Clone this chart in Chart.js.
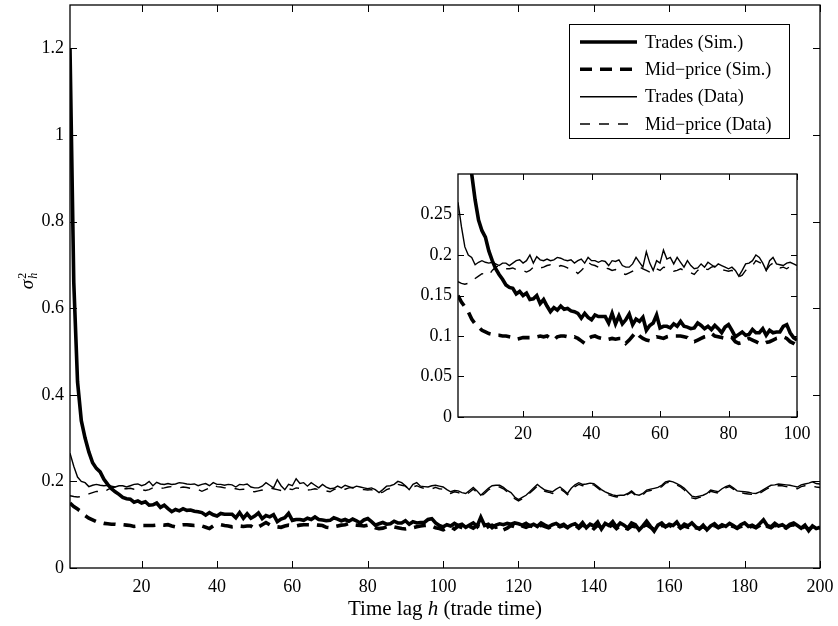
<!DOCTYPE html>
<html><head><meta charset="utf-8">
<script src="https://cdn.jsdelivr.net/npm/chart.js@4.4.1/dist/chart.umd.min.js"></script>
<style>
html,body{margin:0;padding:0;background:#fff;}
#wrap{position:relative;width:838px;height:626px;overflow:hidden;background:#fff;}
#main{position:absolute;left:0;top:0;}
#inset{position:absolute;left:400px;top:165px;}
</style></head><body>
<div id="wrap">
<canvas id="main" width="838" height="626"></canvas>
<canvas id="inset" width="420" height="290"></canvas>
</div>
<script>
// ---------- data ----------
const lag = Array.from({length:200},(_,i)=>i+1);

const tradesSim = [
1.20,0.66,0.43,0.34,0.30,0.268,0.243,0.230,0.222,0.205,
0.193,0.183,0.176,0.170,0.163,0.160,0.159,0.152,0.155,0.150,
0.153,0.145,0.146,0.150,0.140,0.145,0.137,0.130,0.135,0.132,
0.137,0.133,0.134,0.131,0.130,0.128,0.122,0.128,0.123,0.120,
0.126,0.124,0.124,0.124,0.116,0.128,0.115,0.125,0.115,0.120,
0.127,0.114,0.121,0.118,0.123,0.107,0.113,0.116,0.126,0.110,
0.112,0.112,0.110,0.115,0.112,0.118,0.112,0.111,0.109,0.110,
0.116,0.113,0.109,0.112,0.108,0.113,0.109,0.104,0.111,0.114,
0.107,0.099,0.102,0.105,0.101,0.102,0.108,0.104,0.104,0.109,
0.101,0.107,0.104,0.105,0.105,0.112,0.114,0.104,0.098,0.095,
0.100,0.097,0.103,0.098,0.101,0.094,0.099,0.104,0.096,0.117,
0.098,0.101,0.093,0.099,0.102,0.100,0.103,0.101,0.104,0.102,
0.099,0.103,0.097,0.101,0.096,0.104,0.099,0.095,0.100,0.103,
0.097,0.101,0.094,0.099,0.102,0.095,0.105,0.093,0.101,0.097,
0.106,0.090,0.103,0.098,0.107,0.094,0.104,0.099,0.092,0.104,
0.100,0.088,0.097,0.108,0.096,0.085,0.099,0.104,0.095,0.101,
0.098,0.106,0.093,0.101,0.097,0.104,0.095,0.090,0.099,0.088,
0.097,0.102,0.094,0.100,0.096,0.103,0.098,0.092,0.100,0.104,
0.096,0.099,0.094,0.102,0.111,0.098,0.095,0.103,0.097,0.100,
0.094,0.101,0.104,0.098,0.092,0.099,0.086,0.097,0.091,0.094];

const midSim = [
0.150,0.142,0.136,0.130,0.121,0.115,0.111,0.107,0.105,0.103,
0.102,0.101,0.101,0.100,0.100,0.099,0.098,0.096,0.097,0.098,
0.098,0.098,0.098,0.099,0.100,0.099,0.100,0.097,0.095,0.099,
0.100,0.100,0.099,0.098,0.099,0.097,0.094,0.091,0.097,0.099,
0.100,0.098,0.097,0.095,0.096,0.097,0.096,0.097,0.097,0.091,
0.095,0.100,0.105,0.100,0.097,0.095,0.094,0.097,0.099,0.098,
0.097,0.099,0.100,0.100,0.100,0.100,0.099,0.098,0.094,0.093,
0.095,0.097,0.099,0.100,0.103,0.100,0.099,0.098,0.097,0.099,
0.098,0.093,0.091,0.092,0.095,0.097,0.095,0.093,0.091,0.090,
0.092,0.093,0.095,0.097,0.098,0.099,0.097,0.093,0.091,0.088,
0.092,0.095,0.090,0.097,0.093,0.089,0.096,0.092,0.098,0.095,
0.090,0.096,0.099,0.094,0.097,0.088,0.092,0.098,0.095,0.100,
0.097,0.094,0.098,0.095,0.092,0.099,0.096,0.093,0.097,0.100,
0.095,0.098,0.093,0.096,0.099,0.092,0.100,0.094,0.097,0.091,
0.099,0.093,0.097,0.095,0.100,0.091,0.098,0.094,0.090,0.097,
0.095,0.091,0.096,0.100,0.094,0.089,0.093,0.098,0.096,0.099,
0.094,0.100,0.092,0.097,0.094,0.099,0.093,0.091,0.096,0.090,
0.095,0.098,0.093,0.097,0.094,0.099,0.096,0.092,0.096,0.099,
0.094,0.097,0.093,0.098,0.104,0.096,0.093,0.099,0.095,0.097,
0.092,0.098,0.100,0.095,0.091,0.096,0.089,0.095,0.090,0.092];

const tradesData = [
0.265,0.235,0.210,0.200,0.197,0.188,0.191,0.193,0.191,0.190,
0.191,0.189,0.187,0.190,0.190,0.187,0.190,0.193,0.194,0.190,
0.193,0.200,0.190,0.198,0.194,0.193,0.195,0.193,0.194,0.197,
0.196,0.194,0.193,0.194,0.190,0.193,0.195,0.190,0.197,0.193,
0.193,0.191,0.193,0.192,0.187,0.193,0.192,0.194,0.187,0.185,
0.185,0.189,0.197,0.191,0.185,0.204,0.190,0.181,0.193,0.190,
0.206,0.195,0.197,0.189,0.197,0.191,0.185,0.193,0.187,0.183,
0.184,0.189,0.185,0.191,0.188,0.185,0.189,0.187,0.185,0.183,
0.185,0.181,0.174,0.181,0.189,0.190,0.193,0.200,0.197,0.190,
0.181,0.193,0.197,0.189,0.188,0.187,0.190,0.191,0.189,0.187,
0.181,0.176,0.179,0.178,0.174,0.172,0.179,0.186,0.178,0.168,
0.176,0.184,0.190,0.191,0.191,0.186,0.179,0.174,0.164,0.158,
0.163,0.168,0.176,0.185,0.193,0.186,0.180,0.178,0.176,0.182,
0.187,0.180,0.172,0.184,0.192,0.197,0.193,0.194,0.196,0.195,
0.188,0.181,0.176,0.172,0.169,0.167,0.168,0.168,0.172,0.178,
0.170,0.168,0.172,0.180,0.182,0.184,0.186,0.191,0.199,0.201,
0.199,0.195,0.190,0.184,0.175,0.166,0.164,0.166,0.168,0.172,
0.180,0.178,0.176,0.183,0.188,0.191,0.185,0.178,0.177,0.176,
0.175,0.173,0.172,0.176,0.181,0.186,0.191,0.192,0.194,0.193,
0.192,0.191,0.189,0.187,0.192,0.194,0.196,0.199,0.195,0.194];

const midData = [
0.167,0.165,0.164,0.165,0.167,0.171,0.174,0.177,0.176,0.175,
0.181,0.185,0.187,0.185,0.183,0.183,0.184,0.182,0.182,0.181,
0.179,0.181,0.185,0.183,0.184,0.185,0.187,0.188,0.186,0.185,
0.187,0.186,0.184,0.182,0.181,0.177,0.181,0.185,0.191,0.188,
0.187,0.185,0.186,0.184,0.183,0.181,0.182,0.180,0.177,0.176,
0.178,0.180,0.184,0.185,0.183,0.181,0.179,0.178,0.183,0.181,
0.185,0.184,0.182,0.180,0.181,0.183,0.181,0.179,0.178,0.176,
0.181,0.185,0.183,0.182,0.185,0.186,0.183,0.182,0.181,0.180,
0.181,0.176,0.173,0.175,0.181,0.184,0.187,0.193,0.191,0.189,
0.181,0.187,0.190,0.186,0.184,0.185,0.183,0.186,0.183,0.182,
0.178,0.172,0.176,0.174,0.171,0.169,0.175,0.182,0.175,0.166,
0.172,0.180,0.186,0.188,0.187,0.183,0.176,0.170,0.160,0.155,
0.160,0.165,0.173,0.181,0.189,0.183,0.177,0.175,0.172,0.178,
0.183,0.177,0.169,0.180,0.188,0.193,0.190,0.191,0.193,0.192,
0.185,0.178,0.173,0.169,0.166,0.164,0.165,0.166,0.170,0.175,
0.168,0.165,0.169,0.177,0.179,0.181,0.183,0.188,0.196,0.198,
0.196,0.192,0.187,0.180,0.171,0.162,0.160,0.163,0.165,0.169,
0.177,0.175,0.173,0.180,0.185,0.188,0.182,0.175,0.174,0.172,
0.171,0.170,0.168,0.172,0.178,0.183,0.188,0.189,0.190,0.190,
0.188,0.187,0.185,0.183,0.188,0.190,0.191,0.189,0.187,0.186];

const seriesLabels = ['Trades (Sim.)','Mid\u2212price (Sim.)','Trades (Data)','Mid\u2212price (Data)'];
const mainXTicks = [20,40,60,80,100,120,140,160,180,200];
const mainYTicks = [0,0.2,0.4,0.6,0.8,1,1.2];
const insetXTicks = [20,40,60,80,100];
const insetYTicks = [0,0.05,0.1,0.15,0.2,0.25];

// ---------- helpers ----------
const SERIF = '"Liberation Serif","Times New Roman",serif';
const styles = [
  {borderWidth:3.6, borderDash:[]},
  {borderWidth:3.6, borderDash:[12,8]},
  {borderWidth:1.4, borderDash:[]},
  {borderWidth:1.4, borderDash:[10,9]}
];
const allSeries = [tradesSim, midSim, tradesData, midData];

function buildDatasets(maxLag){
  return allSeries.map((arr,k)=>({
    label: seriesLabels[k],
    data: arr.map((v,i)=>({x:lag[i], y:v})).filter(p=>p.x<=maxLag),
    borderColor:'#000',
    backgroundColor:'#000',
    borderWidth: styles[k].borderWidth,
    borderDash: styles[k].borderDash,
    pointRadius:0,
    tension:0,
    fill:false
  }));
}

const frameTicks = {
  id:'frameTicks',
  beforeDraw(chart, args, opts){
    if(!opts.whiteArea) return;
    const {ctx, chartArea:a} = chart;
    ctx.save(); ctx.fillStyle='#fff';
    ctx.fillRect(a.left, a.top, a.right-a.left, a.bottom-a.top);
    ctx.restore();
  },
  afterDatasetsDraw(chart, args, opts){
    const {ctx, chartArea:a, scales} = chart;
    const x = scales.x, y = scales.y;
    const L = opts.len || 7;
    ctx.save();
    ctx.strokeStyle='#000'; ctx.lineWidth=1; ctx.setLineDash([]);
    ctx.beginPath();
    x.ticks.forEach(t=>{
      const px = Math.round(x.getPixelForValue(t.value))+0.5;
      ctx.moveTo(px,a.bottom); ctx.lineTo(px,a.bottom-L);
      ctx.moveTo(px,a.top); ctx.lineTo(px,a.top+L);
    });
    y.ticks.forEach(t=>{
      const py = Math.round(y.getPixelForValue(t.value))+0.5;
      ctx.moveTo(a.left,py); ctx.lineTo(a.left+L,py);
      ctx.moveTo(a.right,py); ctx.lineTo(a.right-L,py);
    });
    ctx.stroke();
    ctx.lineWidth=1.3;
    ctx.strokeRect(a.left, a.top, a.right-a.left, a.bottom-a.top);
    ctx.restore();
  }
};

const mainDecor = {
  id:'mainDecor',
  afterDraw(chart){
    const ctx = chart.ctx;
    const a = chart.chartArea;
    ctx.save();
    ctx.fillStyle='#000';
    // x axis title
    const segs = [
      {t:'Time lag ', f:'21px '+SERIF},
      {t:'h', f:'italic 21px '+SERIF},
      {t:' (trade time)', f:'21px '+SERIF}
    ];
    let tot=0; segs.forEach(s=>{ctx.font=s.f; s.w=ctx.measureText(s.t).width; tot+=s.w;});
    let xx = (a.left+a.right)/2 - tot/2;
    ctx.textBaseline='middle';
    segs.forEach(s=>{ctx.font=s.f; ctx.fillText(s.t, xx, 609); xx+=s.w;});
    // y axis title: sigma^2_h, rotated
    ctx.translate(26, 281);
    ctx.rotate(-Math.PI/2);
    ctx.textBaseline='alphabetic';
    ctx.font='italic 19px '+SERIF;
    const wS = ctx.measureText('\u03C3').width;
    ctx.font='12px '+SERIF;
    const w2 = ctx.measureText('2').width;
    const totY = wS + w2 + 1;
    const x0 = -totY/2;
    ctx.font='italic 19px '+SERIF;
    ctx.fillText('\u03C3', x0, 7);
    ctx.font='12px '+SERIF;
    ctx.fillText('2', x0+wS+1, -0.5);
    ctx.font='italic 12px '+SERIF;
    ctx.fillText('h', x0+wS+1, 10.5);
    ctx.setTransform(1,0,0,1,0,0);
    // legend
    const bx=569.5, by=24.5, bw=220, bh=114;
    ctx.fillStyle='#fff';
    ctx.fillRect(bx,by,bw,bh);
    ctx.strokeStyle='#000'; ctx.lineWidth=1; ctx.setLineDash([]);
    ctx.strokeRect(bx,by,bw,bh);
    const rows=[42,69.3,96.7,124];
    chart.data.datasets.forEach((ds,k)=>{
      const yy = rows[k];
      ctx.strokeStyle='#000';
      ctx.lineWidth = ds.borderWidth;
      ctx.setLineDash(ds.borderDash||[]);
      ctx.beginPath(); ctx.moveTo(580,yy); ctx.lineTo(637,yy); ctx.stroke();
      ctx.setLineDash([]);
      ctx.fillStyle='#000';
      ctx.font='18px '+SERIF;
      ctx.textBaseline='middle';
      ctx.fillText(ds.label, 645, yy+1);
    });
    ctx.restore();
  }
};

function makeOptions(cfg){
  return {
    responsive:false,
    animation:false,
    devicePixelRatio:1,
    events:[],
    layout:{padding:cfg.padding},
    plugins:{legend:{display:false}, tooltip:{enabled:false}, frameTicks:{len:cfg.tickLen, whiteArea:cfg.whiteArea}},
    scales:{
      x:{
        type:'linear', min:1, max:cfg.xmax,
        grid:{display:false, drawTicks:false}, border:{display:false},
        ticks:{color:'#000', font:{family:SERIF, size:18}, padding:cfg.xPad, maxRotation:0, autoSkip:false, callback:v=>String(v)},
        afterBuildTicks:s=>{ s.ticks = cfg.xTicks.map(v=>({value:v})); },
        afterFit:s=>{ s.height = cfg.xH; s.paddingLeft=0; s.paddingRight=0; }
      },
      y:{
        type:'linear', min:0, max:cfg.ymax,
        grid:{display:false, drawTicks:false}, border:{display:false},
        ticks:{color:'#000', font:{family:SERIF, size:18}, padding:cfg.yPad, autoSkip:false, callback:v=>String(v)},
        afterBuildTicks:s=>{ s.ticks = cfg.yTicks.map(v=>({value:v})); },
        afterFit:s=>{ s.width = cfg.yW; s.paddingTop=0; s.paddingBottom=0; }
      }
    }
  };
}

new Chart(document.getElementById('main'), {
  type:'line',
  data:{datasets:buildDatasets(200)},
  options:makeOptions({padding:{top:5,right:18,left:0,bottom:0}, xmax:200, ymax:1.3, xTicks:mainXTicks, yTicks:mainYTicks, xH:58, yW:70, xPad:8, yPad:6, tickLen:7, whiteArea:false}),
  plugins:[frameTicks, mainDecor]
});

new Chart(document.getElementById('inset'), {
  type:'line',
  data:{datasets:buildDatasets(100)},
  options:makeOptions({padding:{top:9,right:23,left:0,bottom:0}, xmax:100, ymax:0.3, xTicks:insetXTicks, yTicks:insetYTicks, xH:38, yW:58, xPad:6, yPad:6, tickLen:6, whiteArea:true}),
  plugins:[frameTicks]
});
</script>
</body></html>
